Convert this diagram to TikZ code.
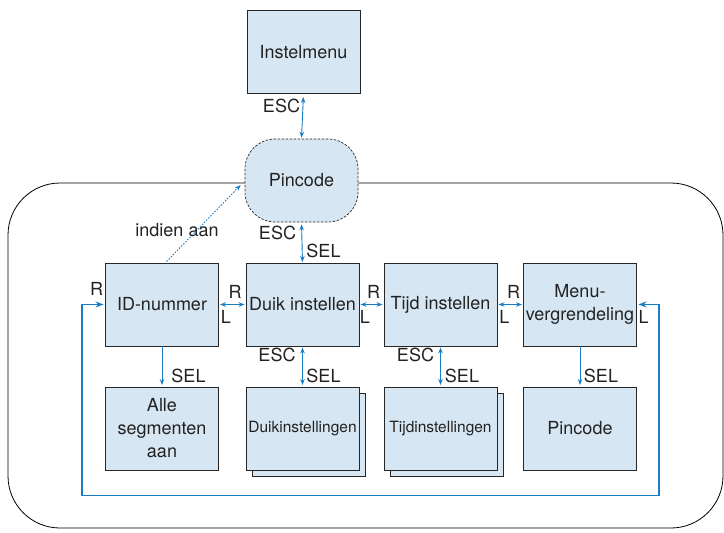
\documentclass[tikz,border=0pt]{standalone}
\usepackage{fontspec}
\setmainfont{TeX Gyre Heros}
\usetikzlibrary{arrows.meta,calc}
\definecolor{boxblue}{HTML}{D7E6F3}
\definecolor{arrowblue}{HTML}{1A7DC4}
\definecolor{txt}{HTML}{222222}
\begin{document}
\begin{tikzpicture}[x=1pt,y=-1pt,
  every node/.style={text=txt,font=\fontsize{18}{23}\selectfont},
  box/.style={draw=black!85,line width=0.9pt,fill=boxblue,minimum width=113pt,minimum height=83pt,inner sep=0pt,align=center},
  smalltext/.style={font=\fontsize{15.5}{18}\selectfont},
  conn/.style={draw=arrowblue,line width=0.9pt,{Stealth[length=6pt,width=4.5pt]}-{Stealth[length=6pt,width=4.5pt]}},
  oneway/.style={draw=arrowblue,line width=0.9pt,-{Stealth[length=6pt,width=4.5pt]}},
  loopline/.style={draw=arrowblue,line width=1.2pt,{Stealth[length=8pt,width=6pt]}-{Stealth[length=8pt,width=6pt]}},
  lbl/.style={inner sep=0pt}
]
\useasboundingbox (0,0) rectangle (724,533);
% outer rounded frame
\draw[black,line width=0.8pt,rounded corners=52pt] (8,183) rectangle (723,528);
% top
\node[box] (inst) at (303.5,52) {Instelmenu};
\node[box,dash pattern=on 2.5pt off 1.5pt,rounded corners=30pt,line width=0.7pt] (pin) at (301.5,180.5) {Pincode};
% row
\node[box] (id) at (162,304.5) {ID-nummer};
\node[box] (duik) at (302.5,304.5) {Duik instellen};
\node[box] (tijd) at (440.5,304.5) {Tijd instellen};
\node[box] (menu) at (580,304.5) {Menu-\\vergrendeling};
% bottom
\node[box] (alle) at (162,428.5) {Alle\\segmenten\\aan};
\node[box] (duikb) at (308.5,434.5) {};
\node[box,smalltext] (duikset) at (302.5,428.5) {Duikinstellingen};
\node[box] (tijdb) at (446.5,434.5) {};
\node[box,smalltext] (tijdset) at (440.5,428.5) {Tijdinstellingen};
\node[box] (pin2) at (580,428.5) {Pincode};
% connectors
\draw[conn,shorten <=3pt,shorten >=1pt] (inst.south) -- (pin.north);
\draw[conn,shorten <=2pt,shorten >=0.5pt] (pin.south) -- (duik.north);
\draw[conn,shorten <=1pt,shorten >=1pt] (id.east) -- (duik.west);
\draw[conn,shorten <=1pt,shorten >=1pt] (duik.east) -- (tijd.west);
\draw[conn,shorten <=1pt,shorten >=1pt] (tijd.east) -- (menu.west);
\draw[oneway,shorten >=1.5pt] (id.south) -- (alle.north);
\draw[conn,shorten <=1pt,shorten >=1.5pt] (duik.south) -- (duikset.north);
\draw[conn,shorten <=1pt,shorten >=1.5pt] (tijd.south) -- (tijdset.north);
\draw[oneway,shorten >=1.5pt] (menu.south) -- (pin2.north);
\draw[draw=arrowblue,line width=0.9pt,dash pattern=on 1.5pt off 1.5pt,-{Stealth[length=6pt,width=4.5pt]}]
  ($(id.north)+(4.5,-1)$) -- ($(pin.west)+(-4,4.5)$);
\coordinate (lb) at (82,495.5);
\coordinate (rb) at (659,495.5);
\draw[loopline,shorten <=1.5pt,shorten >=1.5pt] (id.west) -| (lb) -- (rb) |- (menu.east);
% labels
\node[lbl] at (281.5,106) {ESC};
\node[lbl] at (277.5,233) {ESC};
\node[lbl] at (323.5,250.5) {SEL};
\node[lbl] at (177,230) {indien aan};
\node[lbl] at (96.5,289) {R};
\node[lbl] at (235,291.5) {R};
\node[lbl] at (226,316.5) {L};
\node[lbl] at (373.5,291.5) {R};
\node[lbl] at (365,316.5) {L};
\node[lbl] at (513.5,291.5) {R};
\node[lbl] at (504.5,316.5) {L};
\node[lbl] at (643.5,316.5) {L};
\node[lbl] at (188.5,376) {SEL};
\node[lbl] at (277,355) {ESC};
\node[lbl] at (323.5,376) {SEL};
\node[lbl] at (415.5,355) {ESC};
\node[lbl] at (462,376) {SEL};
\node[lbl] at (601,376) {SEL};
\end{tikzpicture}
\end{document}
